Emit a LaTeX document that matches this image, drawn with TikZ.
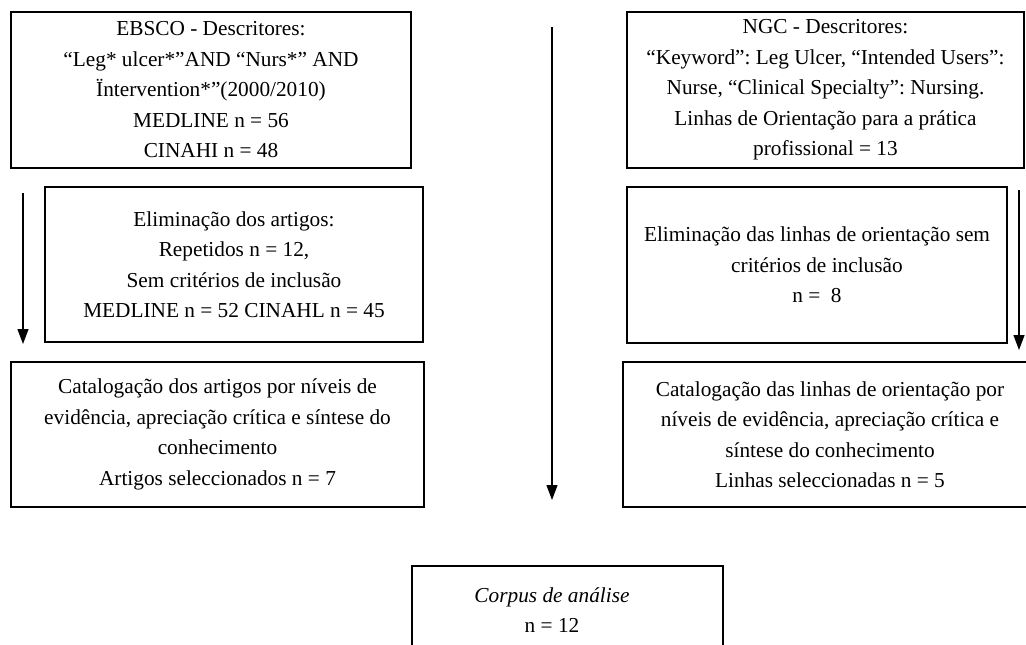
\documentclass[tikz,border=0pt]{standalone}
\usepackage{fontspec}
\setmainfont{Liberation Serif}
\usetikzlibrary{arrows.meta}
\frenchspacing
\begin{document}
\begin{tikzpicture}[x=1pt,y=-1pt,
  box/.style={draw, line width=1.5pt, rectangle, align=center, inner sep=0pt,
    font=\fontsize{21.3}{30.5}\selectfont},
  txt/.style={align=center, inner sep=0pt, font=\fontsize{21.3}{29.5}\selectfont},
  arr/.style={line width=1.3pt, -{Triangle[length=15pt,width=11pt]}}]
\useasboundingbox (0,0) rectangle (1026,645);
\clip (0,0) rectangle (1026,645);

\node[box, minimum width=400pt, minimum height=156pt] (ebsco) at (211,90)
 {EBSCO - Descritores:\\
  “Leg* ulcer*”AND “Nurs*” AND\\
  Ïntervention*”(2000/2010)\\
  MEDLINE n = 56\\
  CINAHI n = 48};

\node[box, minimum width=397pt, minimum height=156pt] (ngc) at (825.5,90)
 {NGC - Descritores:\\
  “Keyword”: Leg Ulcer, “Intended Users”:\\
  Nurse, “Clinical Specialty”: Nursing.\\
  Linhas de Orientação para a prática\\
  profissional = 13};

\node[box, minimum width=378pt, minimum height=155pt] (elimA) at (234,264.5)
 {Eliminação dos artigos:\\
  Repetidos n = 12,\\
  Sem critérios de inclusão\\
  MEDLINE n = 52 CINAHL n = 45};

\node[box, minimum width=380pt, minimum height=156pt] (elimL) at (817,265)
 {Eliminação das linhas de orientação sem\\
  critérios de inclusão\\
  n = \ 8};

\node[box, minimum width=413pt, minimum height=145pt] (catA) at (217.5,434.5)
 {Catalogação dos artigos por níveis de\\
  evidência, apreciação crítica e síntese do\\
  conhecimento\\
  Artigos seleccionados n = 7};

\node[box, minimum width=414pt, minimum height=145pt] (catL) at (830,434.5)
 {Catalogação das linhas de orientação por\\
  níveis de evidência, apreciação crítica e\\
  síntese do conhecimento\\
  Linhas seleccionadas n = 5};

\node[box, minimum width=311pt, minimum height=140pt] (corpus) at (567.5,636) {};
\node[txt] (corpustxt) at (552,610) {\textit{Corpus de análise}\\ n = 12};

\coordinate (lt) at (23,193);
\coordinate (lb) at (23,344);
\coordinate (ct) at (552,27);
\coordinate (cb) at (552,500);
\coordinate (rt) at (1019,190);
\coordinate (rb) at (1019,350);

\draw[arr] (lt) -- (lb);
\draw[arr] (ct) -- (cb);
\draw[arr] (rt) -- (rb);
\end{tikzpicture}
\end{document}
